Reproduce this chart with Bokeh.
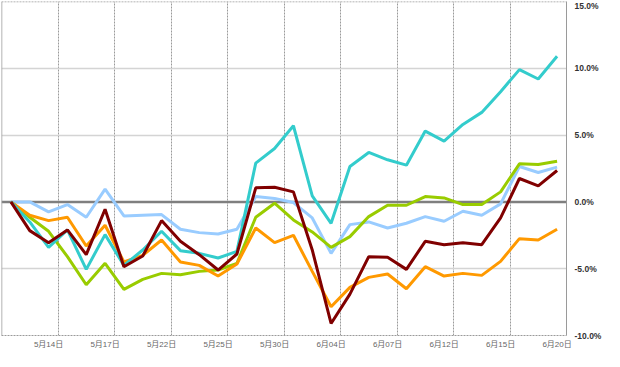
from bokeh.plotting import figure
from bokeh.models import FixedTicker, Span, Range1d, PrintfTickFormatter
from bokeh.embed import file_html
from bokeh.resources import INLINE

dates = ["5月10日", "5月11日", "5月14日", "5月15日", "5月16日", "5月17日", "5月18日",
         "5月21日", "5月22日", "5月23日", "5月24日", "5月25日", "5月28日", "5月29日",
         "5月30日", "5月31日", "6月01日", "6月04日", "6月05日", "6月06日", "6月07日",
         "6月08日", "6月11日", "6月12日", "6月13日", "6月14日", "6月15日", "6月18日",
         "6月19日", "6月20日"]

series_teal = [0, -1.5, -3.4, -2.1, -5.05, -2.45, -4.75, -3.6, -2.2, -3.65, -3.85, -4.2, -3.7,
               2.9, 4.0, 5.7, 0.45, -1.6, 2.65, 3.7, 3.15, 2.75, 5.3, 4.55, 5.8, 6.7, 8.25,
               9.9, 9.2, 10.9]
series_lightblue = [0, 0, -0.75, -0.2, -1.15, 0.95, -1.05, -1.0, -0.95, -2.05, -2.3, -2.4, -2.05,
                    0.4, 0.25, -0.05, -1.2, -3.85, -1.7, -1.5, -1.95, -1.6, -1.1, -1.45, -0.7,
                    -1.0, -0.15, 2.65, 2.2, 2.6]
series_green = [0, -1.15, -2.2, -4.1, -6.2, -4.6, -6.55, -5.8, -5.35, -5.45, -5.2, -5.1, -4.6,
                -1.15, -0.1, -1.35, -2.25, -3.4, -2.6, -1.1, -0.25, -0.25, 0.4, 0.3, -0.2, -0.2,
                0.75, 2.85, 2.8, 3.05]
series_orange = [0, -1.0, -1.4, -1.15, -3.3, -1.75, -4.5, -4.0, -2.85, -4.5, -4.75, -5.55, -4.65,
                 -1.95, -3.05, -2.5, -5.2, -7.85, -6.4, -5.65, -5.4, -6.5, -4.85, -5.55, -5.35,
                 -5.5, -4.45, -2.75, -2.85, -2.05]
series_darkred = [0, -2.15, -3.05, -2.1, -3.95, -0.55, -4.85, -4.05, -1.4, -2.95, -3.95, -5.1,
                  -3.9, 1.05, 1.1, 0.75, -3.6, -9.1, -6.9, -4.1, -4.15, -5.05, -2.95, -3.2, -3.05,
                  -3.2, -1.2, 1.75, 1.2, 2.35]

y_ticks = [-10, -5, 0, 5, 10, 15]
label_idx = [2, 5, 8, 11, 14, 17, 20, 23, 26, 29]

x = list(range(len(dates)))

p = figure(width=604, height=351, output_backend="svg", toolbar_location=None,
           x_range=Range1d(-0.5, len(dates) - 0.5), y_range=Range1d(y_ticks[0], y_ticks[-1]),
           y_axis_location="right", min_border_left=1, min_border_top=1,
           min_border_bottom=0, min_border_right=0)
p.outline_line_color = None
p.background_fill_color = "white"
p.border_fill_color = "white"

# x axis
p.xaxis.ticker = FixedTicker(ticks=label_idx)
p.xaxis.major_label_overrides = {i: dates[i] for i in label_idx}
p.xaxis.axis_line_color = "#9a9a9a"
p.xaxis.axis_line_dash = "2 1"
p.xaxis.major_tick_line_color = None
p.xaxis.minor_tick_line_color = None
p.xaxis.major_tick_out = 0
p.xaxis.major_tick_in = 0
p.xaxis.minor_tick_out = 0
p.xaxis.major_label_text_font = "Liberation Sans, Noto Sans CJK JP"
p.xaxis.major_label_text_font_size = "8px"
p.xaxis.major_label_text_color = "#666666"
p.xaxis.major_label_standoff = 4

# y axis
p.yaxis.ticker = FixedTicker(ticks=y_ticks)
p.yaxis.formatter = PrintfTickFormatter(format="%.1f%%")
p.yaxis.axis_line_color = "#9a9a9a"
p.yaxis.major_tick_line_color = None
p.yaxis.minor_tick_line_color = None
p.yaxis.major_tick_out = 0
p.yaxis.major_tick_in = 0
p.yaxis.minor_tick_out = 0
p.yaxis.major_label_text_font = "Liberation Sans"
p.yaxis.major_label_text_font_style = "bold"
p.yaxis.major_label_text_font_size = "8.5px"
p.yaxis.major_label_text_color = "#333333"
p.yaxis.major_label_standoff = 8

# grids
p.xgrid.ticker = FixedTicker(ticks=[i + 0.5 for i in label_idx[:-1]])
p.xgrid.grid_line_color = "#9a9a9a"
p.xgrid.grid_line_dash = "2 1"
p.ygrid.ticker = FixedTicker(ticks=[-5, 5, 10])
p.ygrid.grid_line_color = "#d4d4d4"
p.ygrid.grid_line_width = 1.5

# borders and zero line
p.add_layout(Span(location=-0.5, dimension="height", line_color="#9a9a9a", line_width=1.5))
p.add_layout(Span(location=y_ticks[-1], dimension="width", line_color="#9a9a9a",
                  line_dash="2 1", line_width=1.5))
p.add_layout(Span(location=0, dimension="width", line_color="#7f7f7f", line_width=2.5,
                  level="underlay"))

for ys, col in [(series_lightblue, "#99CCFF"), (series_green, "#99CC00"),
                (series_orange, "#FF9900"), (series_teal, "#33CCCC"),
                (series_darkred, "#800000")]:
    p.line(x, ys, line_color=col, line_width=3)

open("out.html", "w").write(file_html(p, INLINE))
